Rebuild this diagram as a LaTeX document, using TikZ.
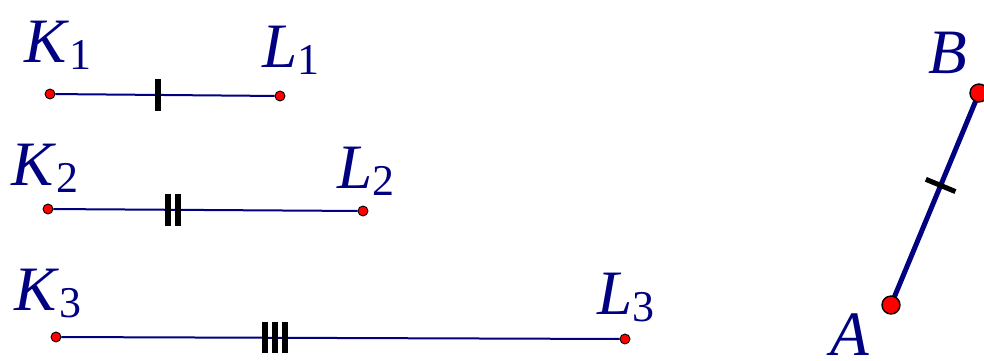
\documentclass[tikz,border=0pt]{standalone}
\usepackage{fontspec}
\setmainfont{Liberation Serif}
\usepackage{xcolor}
\usetikzlibrary{calc}
\definecolor{navy}{RGB}{0,0,128}
\newcommand{\ptname}[2]{\textit{#1}\raisebox{-4.5pt}{\fontsize{25}{25}\selectfont #2}}

\begin{document}
\begin{tikzpicture}[
    x=0.02cm, y=-0.02cm,
    lbl/.style={font=\fontsize{36}{36}\selectfont, text=navy, anchor=base west, inner sep=0pt},
    seg/.style={draw=navy, line width=0.04cm},
    thickseg/.style={draw=navy, line width=0.1cm},
    dot/.style={circle, draw=black, fill=red, line width=0.5pt, inner sep=0pt, minimum size=0.2cm},
    bigdot/.style={dot, line width=0.8pt, minimum size=0.36cm},
    hatch/.style={draw=black, line width=0.12cm}
]
    \useasboundingbox (0,0) rectangle (984,360);
    \clip (0,0) rectangle (984,360);

    \node[dot] (K1) at (50, 94) {};
    \node[dot] (L1) at (280, 96) {};
    \node[dot] (K2) at (48, 209) {};
    \node[dot] (L2) at (363, 211) {};
    \node[dot] (K3) at (56, 337) {};
    \node[dot] (L3) at (625, 339) {};

    \draw[seg] (K1) -- (L1) coordinate[pos=0.467] (m1);
    \draw[seg] (K2) -- (L2) coordinate[pos=0.394] (m2);
    \draw[seg] (K3) -- (L3) coordinate[pos=0.383] (m3);

    % equal-length marks
    \draw[hatch] ($(m1)+(0,-16)$) -- ($(m1)+(0,16)$);
    \foreach \dx in {-5.2,5.2}
        \draw[hatch] ($(m2)+(\dx,-16)$) -- ($(m2)+(\dx,16)$);
    \foreach \dx in {-10.2,0,10.2}
        \draw[hatch] ($(m3)+(\dx,-15.5)$) -- ($(m3)+(\dx,15.5)$);

    \coordinate (A) at (891, 305);
    \coordinate (B) at (979, 93);
    \draw[thickseg] (A) -- (B) coordinate[pos=0.564] (mAB);
    \draw[hatch, line width=0.1cm] ($(mAB)!0.32cm!90:(B)$) -- ($(mAB)!0.32cm!-90:(B)$);
    \node[bigdot] (Ad) at (A) {};
    \node[bigdot] (Bd) at (B) {};

    \node[lbl] (lK1) at (24, 62) {\ptname{K}{1}};
    \node[lbl] (lL1) at (262, 67) {\ptname{L}{1}};
    \node[lbl] (lK2) at (11, 185) {\ptname{K}{2}};
    \node[lbl] (lL2) at (337, 188) {\ptname{L}{2}};
    \node[lbl] (lK3) at (14, 310) {\ptname{K}{3}};
    \node[lbl] (lL3) at (597, 314) {\ptname{L}{3}};
    \node[lbl] (lB) at (928, 73) {\textit{B}};
    \node[lbl] (lA) at (830, 355) {\textit{A}};
\end{tikzpicture}
\end{document}
